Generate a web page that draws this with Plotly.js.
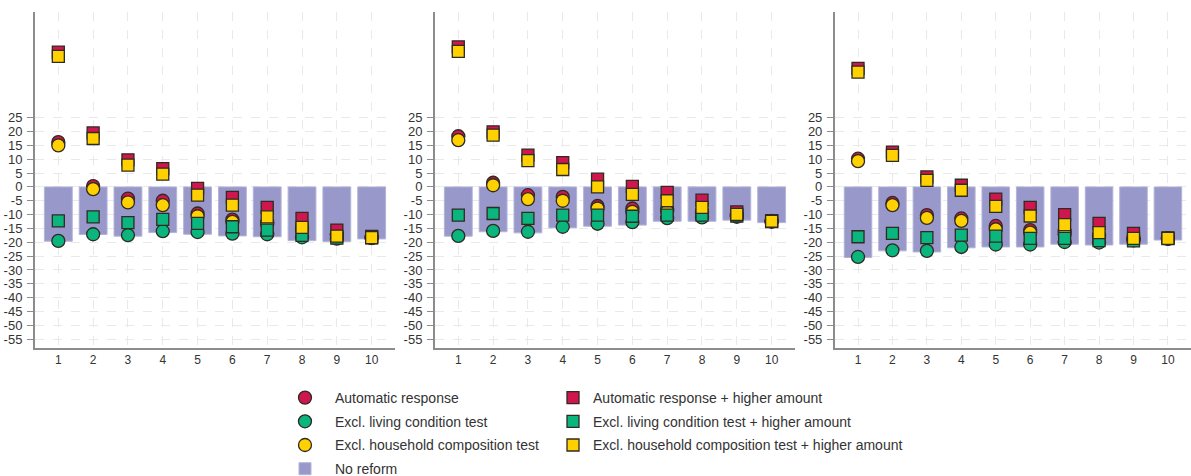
<!DOCTYPE html>
<html>
<head>
<meta charset="utf-8">
<script src="https://cdn.plot.ly/plotly-3.0.1.min.js"></script>
<style>html,body{margin:0;padding:0;background:#fff;}#chart{width:1191px;height:476px;}</style>
</head>
<body>
<div id="chart"></div>
<script>
// Deciles
var deciles = [1, 2, 3, 4, 5, 6, 7, 8, 9, 10];
var yTicks = [25, 20, 15, 10, 5, 0, -5, -10, -15, -20, -25, -30, -35, -40, -45, -50, -55];

// Panel 1
var auto1          = [16.2, 0.3, -4.2, -5.0, -9.6, -11.8, -12.8, -14.5, -17.0, -18.2];
var living1        = [-19.5, -17.1, -17.4, -16.0, -16.3, -16.9, -17.1, -18.2, -18.7, -18.5];
var household1     = [15.0, -0.8, -5.6, -6.6, -10.6, -12.6, -13.5, -15.5, -17.5, -18.3];
var autoHigh1      = [48.7, 19.5, 9.8, 6.6, -0.5, -3.8, -7.4, -11.4, -15.6, -17.9];
var livingHigh1    = [-12.3, -10.8, -12.9, -11.7, -13.2, -14.4, -15.6, -17.5, -18.5, -18.4];
var householdHigh1 = [47.2, 17.5, 7.9, 4.6, -3.0, -6.6, -10.8, -14.6, -17.8, -18.3];
var noReform1      = [-19.6, -17.2, -17.8, -16.5, -17.1, -17.7, -18.0, -19.4, -19.7, -18.8];

// Panel 2
var auto2          = [18.3, 1.5, -3.0, -3.6, -6.9, -7.8, -8.0, -9.0, -10.0, -12.3];
var living2        = [-17.7, -15.9, -16.2, -14.4, -13.3, -12.7, -11.3, -11.0, -10.8, -12.6];
var household2     = [16.9, 0.6, -4.4, -5.0, -7.8, -9.0, -8.8, -9.5, -10.2, -12.4];
var autoHigh2      = [50.6, 19.9, 11.5, 8.8, 2.8, 0.2, -2.0, -4.8, -9.0, -12.2];
var livingHigh2    = [-10.2, -9.6, -11.4, -10.2, -10.2, -10.6, -10.2, -10.2, -10.5, -12.5];
var householdHigh2 = [49.0, 18.7, 9.5, 6.3, 0.0, -2.7, -5.0, -7.4, -9.9, -12.4];
var noReform2      = [-17.8, -16.2, -16.6, -14.8, -14.2, -13.8, -12.4, -12.4, -12.0, -12.9];

// Panel 3
var auto3          = [10.2, -5.8, -10.2, -11.4, -14.1, -15.6, -16.0, -17.5, -18.5, -18.5];
var living3        = [-25.3, -22.9, -23.1, -21.7, -20.8, -20.8, -19.9, -20.1, -19.3, -18.8];
var household3     = [9.3, -6.6, -11.2, -12.3, -15.3, -16.5, -17.0, -18.0, -19.0, -18.6];
var autoHigh3      = [42.8, 12.6, 3.6, 0.6, -4.4, -7.4, -10.0, -13.2, -16.8, -18.4];
var livingHigh3    = [-18.0, -16.8, -18.3, -17.4, -17.8, -18.6, -18.6, -19.4, -19.5, -18.7];
var householdHigh3 = [41.5, 11.4, 2.4, -1.2, -7.0, -10.5, -13.6, -16.5, -18.6, -18.6];
var noReform3      = [-25.5, -23.1, -23.5, -22.0, -21.7, -21.7, -20.7, -21.0, -20.7, -19.2];

var names = {
  auto: 'Automatic response',
  living: 'Excl. living condition test',
  household: 'Excl. household composition test',
  autoHigh: 'Automatic response + higher amount',
  livingHigh: 'Excl. living condition test + higher amount',
  householdHigh: 'Excl. household composition test + higher amount',
  noReform: 'No reform'
};

var RED = '#d0164f', GREEN = '#0bb57e', YELLOW = '#ffd100', BAR = '#9898ca';
var OUT = '#2f2a22';

var panels = [
  {xa: 'x',  ya: 'y',  auto: auto1, living: living1, household: household1, autoHigh: autoHigh1, livingHigh: livingHigh1, householdHigh: householdHigh1, noReform: noReform1},
  {xa: 'x2', ya: 'y2', auto: auto2, living: living2, household: household2, autoHigh: autoHigh2, livingHigh: livingHigh2, householdHigh: householdHigh2, noReform: noReform2},
  {xa: 'x3', ya: 'y3', auto: auto3, living: living3, household: household3, autoHigh: autoHigh3, livingHigh: livingHigh3, householdHigh: householdHigh3, noReform: noReform3}
];

var data = [];
panels.forEach(function (p, i) {
  var show = (i === 0);
  data.push({type: 'bar', x: deciles, y: p.noReform, xaxis: p.xa, yaxis: p.ya, width: 0.8,
    marker: {color: BAR, line: {color: '#b4b4d8', width: 1}}, name: names.noReform,
    showlegend: show, legend: 'legend', legendgroup: 'g7', legendrank: 4});
  function sc(key, color, symbol, size, leg, grp, rank) {
    data.push({type: 'scatter', mode: 'markers', x: deciles, y: p[key], xaxis: p.xa, yaxis: p.ya,
      marker: {color: color, symbol: symbol, size: size, line: {color: OUT, width: 1.3}},
      name: names[key], showlegend: show, legend: leg, legendgroup: grp, legendrank: rank, cliponaxis: false});
  }
  sc('auto', RED, 'circle', 13, 'legend', 'g1', 1);
  sc('living', GREEN, 'circle', 13, 'legend', 'g2', 2);
  sc('household', YELLOW, 'circle', 13, 'legend', 'g3', 3);
  sc('autoHigh', RED, 'square', 12, 'legend2', 'g4', 1);
  sc('livingHigh', GREEN, 'square', 12, 'legend2', 'g5', 2);
  sc('householdHigh', YELLOW, 'square', 12, 'legend2', 'g6', 3);
});

var FONT = 'Liberation Sans, Arial, sans-serif';
function xax(dom, anchor) {
  return {domain: dom, anchor: anchor, range: [0.33, 10.67], tickvals: deciles, ticktext: deciles.map(String),
    showgrid: true, gridcolor: '#e9e9e9', griddash: 'dash', gridwidth: 1,
    showline: true, linecolor: '#8c8c8c', linewidth: 2, ticks: '', zeroline: false,
    tickfont: {family: FONT, size: 12, color: '#333'}, fixedrange: true};
}
function yax(anchor) {
  return {domain: [0, 1], anchor: anchor, range: [-58.2, 63.2], tickvals: yTicks, ticktext: yTicks.map(String),
    showgrid: true, gridcolor: '#e9e9e9', griddash: 'dash', gridwidth: 1,
    showline: true, linecolor: '#8c8c8c', linewidth: 2, ticks: 'outside', ticklen: 6, tickcolor: '#8c8c8c', tickwidth: 1,
    ticklabelstandoff: 2,
    zeroline: false, tickfont: {family: FONT, size: 13, color: '#333'}, fixedrange: true};
}

var legendBase = {orientation: 'v', yref: 'container', yanchor: 'top', xanchor: 'left', y: 0.1975,
  font: {family: FONT, size: 14, color: '#333'}, bgcolor: 'rgba(0,0,0,0)',
  traceorder: 'grouped', tracegroupgap: 2.5, itemclick: false, itemdoubleclick: false};

var layout = {
  width: 1191, height: 476,
  margin: {l: 35, r: 0, t: 12, b: 128},
  paper_bgcolor: '#ffffff', plot_bgcolor: '#ffffff',
  barmode: 'overlay',
  showlegend: true,
  xaxis: xax([0, 0.3114], 'y'),
  yaxis: yax('x'),
  xaxis2: xax([0.346, 0.6574], 'y2'),
  yaxis2: yax('x2'),
  xaxis3: xax([0.692, 1.0], 'y3'),
  yaxis3: yax('x3'),
  legend: Object.assign({}, legendBase, {x: 0.2076, itemwidth: 50}),
  legend2: Object.assign({}, legendBase, {x: 0.4481, itemwidth: 30}),
  font: {family: FONT}
};

Plotly.newPlot('chart', data, layout, {staticPlot: true, displayModeBar: false});
</script>
</body>
</html>
